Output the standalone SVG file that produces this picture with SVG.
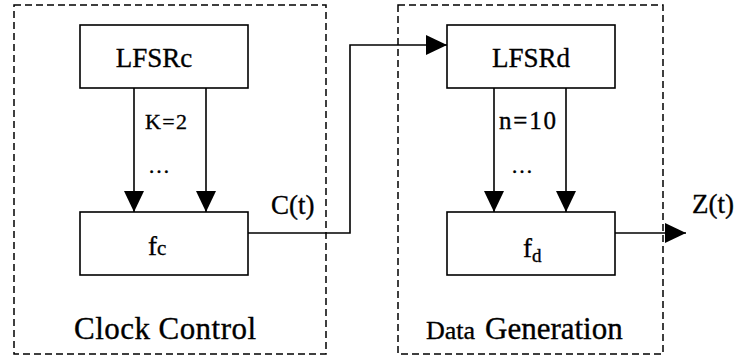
<svg xmlns="http://www.w3.org/2000/svg" width="738" height="363" viewBox="0 0 738 363">
<style>
.grp{fill:none;stroke:#000;stroke-width:1.5;stroke-dasharray:7 4}
.box{fill:#fff;stroke:#000;stroke-width:1.6}
.ln{fill:none;stroke:#000;stroke-width:1.6;marker-end:url(#ah)}
.lbl{font-size:27px}
text{stroke:#000;stroke-width:0.35}
</style>
<defs>
<marker id="ah" markerUnits="userSpaceOnUse" markerWidth="22" markerHeight="22" refX="21" refY="10" orient="auto">
<path d="M0,0 L21,10 L0,20 Z" fill="#000"/>
</marker>
</defs>
<g font-family="'Liberation Serif', 'Times New Roman', serif" fill="#000">
<g id="clock-control">
<rect class="grp" x="14" y="5" width="312" height="349"/>
<text x="74" y="339" font-size="31" textLength="182">Clock Control</text>
</g>
<g id="data-generation">
<rect class="grp" x="398" y="5" width="265" height="349"/>
<text x="426" y="339" font-size="26">Data<tspan x="485" font-size="31">Generation</tspan></text>
</g>
<g id="connectors">
<line class="ln" x1="134" y1="88" x2="134" y2="212"/>
<line class="ln" x1="206" y1="88" x2="206" y2="212"/>
<line class="ln" x1="494" y1="88" x2="494" y2="212"/>
<line class="ln" x1="566" y1="88" x2="566" y2="212"/>
<polyline class="ln" points="248,233 350,233 350,45 447,45"/>
<line class="ln" x1="615" y1="233" x2="686" y2="233"/>
<text x="145" y="129" font-size="22" textLength="42">K=2</text>
<text x="159" y="173" font-size="22" text-anchor="middle">…</text>
<text x="499" y="129" font-size="25" textLength="57">n=10</text>
<text x="522" y="173" font-size="22" text-anchor="middle">…</text>
<text class="lbl" x="271" y="214">C(t)</text>
<text class="lbl" x="692" y="213">Z(t)</text>
</g>
<g id="lfsrc">
<rect class="box" x="80" y="25" width="168" height="63"/>
<text class="lbl" x="154" y="67" text-anchor="middle">LFSRc</text>
</g>
<g id="fc">
<rect class="box" x="80" y="212" width="168" height="63"/>
<text class="lbl" x="148" y="255">f<tspan font-size="21">c</tspan></text>
</g>
<g id="lfsrd">
<rect class="box" x="447" y="25" width="168" height="63"/>
<text class="lbl" x="531" y="67" text-anchor="middle">LFSRd</text>
</g>
<g id="fd">
<rect class="box" x="447" y="212" width="168" height="63"/>
<text class="lbl" x="523" y="257">f<tspan font-size="19" dy="5">d</tspan></text>
</g>
</g>
</svg>
